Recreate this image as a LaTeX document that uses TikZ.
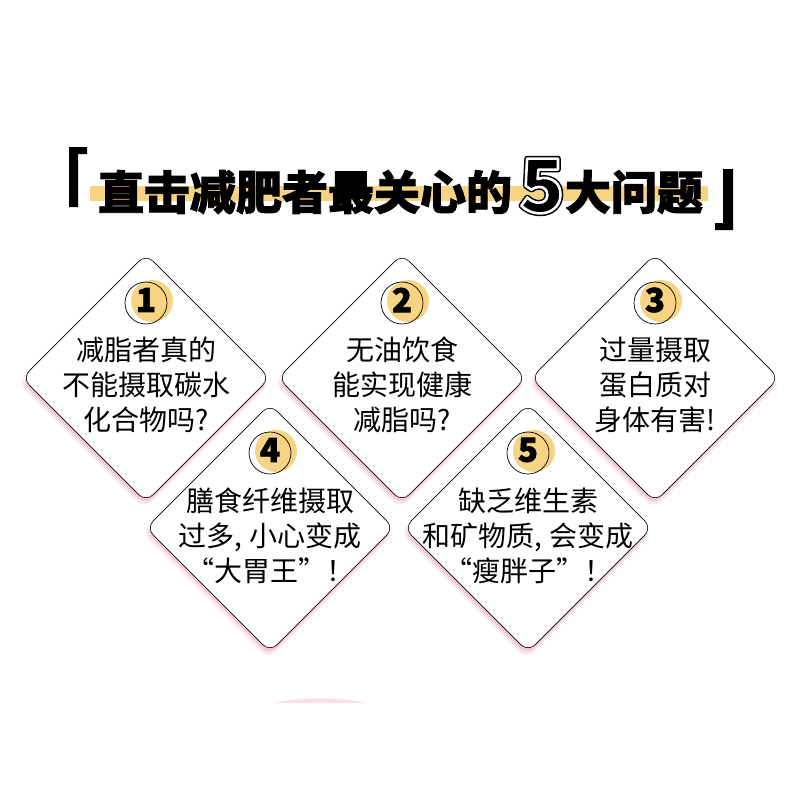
\documentclass[tikz,border=0pt]{standalone}
\usepackage{fontspec}
\setmainfont{Noto Sans CJK SC}
\newfontfamily\heavyfont[BoldFeatures={FakeBold=2}]{Noto Sans CJK SC}
\usetikzlibrary{shapes.geometric,shadows,positioning}
\definecolor{sunny}{HTML}{F6D483}
\definecolor{blush}{HTML}{F2BCD6}

\begin{document}
\begin{tikzpicture}[x=1pt,y=-1pt,
    ask/.style={diamond,aspect=1,minimum size=248pt,inner sep=0pt,rounded corners=10pt,
      draw=black,line width=0.6pt,fill=white,
      drop shadow={shadow xshift=-1.5pt,shadow yshift=-4.5pt,shadow scale=1.02,fill=blush,opacity=.35},
      drop shadow={shadow xshift=-1pt,shadow yshift=-3.5pt,fill=blush,opacity=.7}},
    words/.style={align=center,inner sep=0pt,font=\fontsize{28}{35}\selectfont},
    dot/.style={circle,fill=sunny,minimum size=42pt,inner sep=0pt},
    ring/.style={circle,draw=black,line width=0.7pt,minimum size=42pt,inner sep=0pt},
    num/.style={inner sep=0pt,font=\heavyfont\bfseries\fontsize{33}{33}\selectfont},
    headline/.style={inner sep=0pt,font=\heavyfont\bfseries\fontsize{46}{46}\selectfont},
    bigfive/.style={inner sep=0pt,font=\bfseries\fontsize{74}{74}\selectfont}]
  \useasboundingbox[fill=white] (0,0) rectangle (800,800);

  % title
  \fill[sunny] (90,186) rectangle (708,201);
  \node[bigfive] (rim) at (542,186)
    {\special{pdf:literal direct 1 Tr 5.6 w 1 j 0 0 0 RG}5\special{pdf:literal direct 0 Tr}};
  \node[bigfive] (five) at (542,186)
    {\special{pdf:literal direct 2 Tr 2.6 w 1 j 1 1 1 RG}5\special{pdf:literal direct 0 Tr}};
  \fill (69,147) -- (87,147) -- (87,154) -- (78,154) -- (78,207) -- (69,207) -- cycle;
  \fill (733,230) -- (715,230) -- (715,223) -- (723,223) -- (723,169) -- (733,169) -- cycle;
  \node[headline] (head) at (305,192) {直击减肥者最关心的};
  \node[headline] (tail) at (634,192) {大问题};

  % upper row
  \node[ask] (Q1) at (146,378) {};
  \node[dot] (Y1) at ([xshift=6pt,yshift=77pt]Q1.center) {};
  \node[ring] (R1) at ([yshift=75pt]Q1.center) {};
  \node[num] (N1) at ([yshift=78pt]Q1.center) {1};
  \node[words] (T1) at ([yshift=-7pt]Q1.center) {减脂者真的\\不能摄取碳水\\化合物吗?};

  \node[ask] (Q2) at (402,378) {};
  \node[dot] (Y2) at ([xshift=6pt,yshift=77pt]Q2.center) {};
  \node[ring] (R2) at ([yshift=75pt]Q2.center) {};
  \node[num] (N2) at ([yshift=78pt]Q2.center) {2};
  \node[words] (T2) at ([yshift=-7pt]Q2.center) {无油饮食\\能实现健康\\减脂吗?};

  \node[ask] (Q3) at (655,378) {};
  \node[dot] (Y3) at ([xshift=6pt,yshift=77pt]Q3.center) {};
  \node[ring] (R3) at ([yshift=75pt]Q3.center) {};
  \node[num] (N3) at ([yshift=78pt]Q3.center) {3};
  \node[words] (T3) at ([yshift=-7pt]Q3.center) {过量摄取\\蛋白质对\\身体有害!};

  % lower row
  \node[ask] (Q4) at (270,528) {};
  \node[dot] (Y4) at ([xshift=6pt,yshift=77pt]Q4.center) {};
  \node[ring] (R4) at ([yshift=75pt]Q4.center) {};
  \node[num] (N4) at ([yshift=78pt]Q4.center) {4};
  \node[words] (T4) at ([yshift=-8pt]Q4.center) {膳食纤维摄取\\过多, 小心变成\\“大胃王”！};

  \node[ask] (Q5) at (528,528) {};
  \node[dot] (Y5) at ([xshift=6pt,yshift=77pt]Q5.center) {};
  \node[ring] (R5) at ([yshift=75pt]Q5.center) {};
  \node[num] (N5) at ([yshift=78pt]Q5.center) {5};
  \node[words] (T5) at ([yshift=-8pt]Q5.center) {缺乏维生素\\和矿物质, 会变成\\“瘦胖子”！};

  \fill[blush,opacity=.5] (275,703) .. controls (300,697) and (340,697) .. (365,703) -- cycle;
\end{tikzpicture}
\end{document}
